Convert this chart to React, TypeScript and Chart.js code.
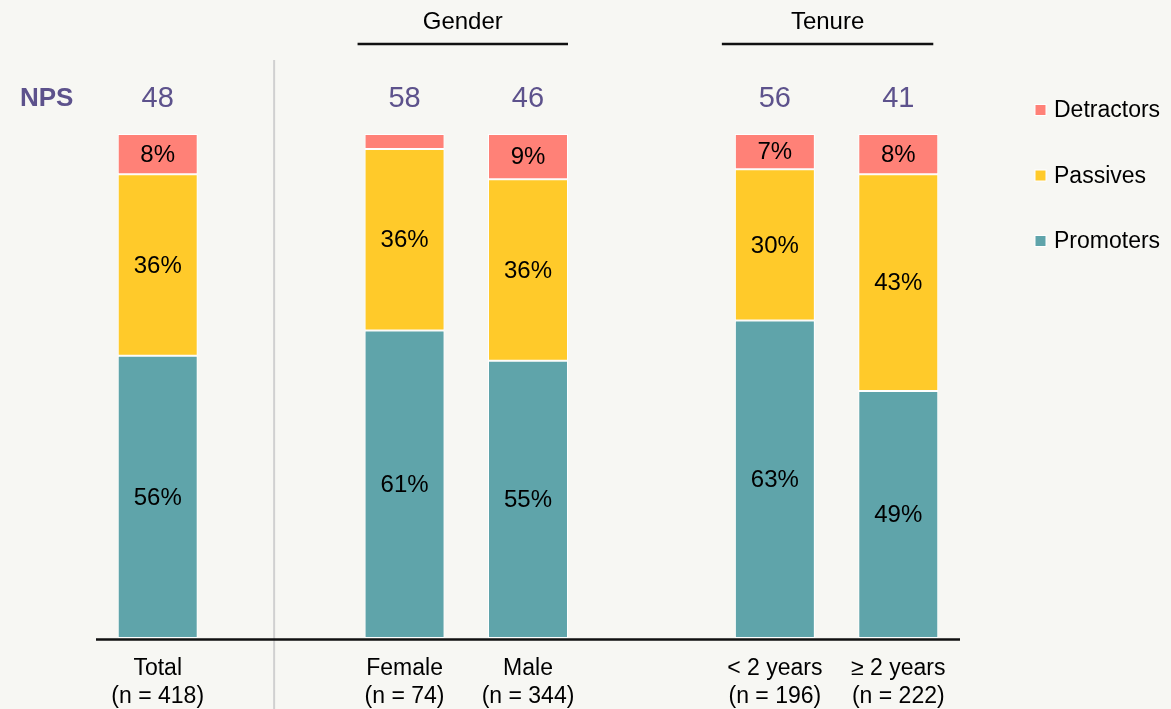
import React, { useEffect, useRef } from "react";
import { Chart, registerables } from "chart.js";

Chart.register(...registerables);

// ---- data ----
const categories: string[][] = [
  ["Total", "(n = 418)"],
  [""],
  ["Female", "(n = 74)"],
  ["Male", "(n = 344)"],
  [""],
  ["< 2 years", "(n = 196)"],
  ["≥ 2 years", "(n = 222)"],
];
const promoters = [56, null, 61, 55, null, 63, 49];
const passives = [36, null, 36, 36, null, 30, 43];
const detractors = [8, null, 3, 9, null, 7, 8];
const npsScores = [48, null, 58, 46, null, 56, 41];
const groupLabels = ["Gender", "Tenure"];
const groupStart = [2, 5];
const groupEnd = [3, 6];

const COLORS = {
  promoters: "#5fa4aa",
  passives: "#ffca2a",
  detractors: "#ff8177",
  nps: "#5d528c",
  bg: "#f7f7f3",
};
const FONT = "'Liberation Sans', Arial, sans-serif";

const decorPlugin = {
  id: "decor",
  afterDatasetsDraw(chart: any) {
    const { ctx, chartArea } = chart;
    const xs = chart.scales.x;
    ctx.save();

    // segment value labels
    ctx.font = `24px ${FONT}`;
    ctx.fillStyle = "#000";
    ctx.textAlign = "center";
    ctx.textBaseline = "middle";
    chart.data.datasets.forEach((ds: any, i: number) => {
      const meta = chart.getDatasetMeta(i);
      meta.data.forEach((bar: any, j: number) => {
        const v = ds.data[j];
        if (v == null || v < 5) return;
        const p = bar.getProps(["x", "y", "base"], true);
        ctx.fillText(`${v}%`, p.x, (p.y + p.base) / 2 + 1);
      });
    });

    // separator
    const sepX = xs.getPixelForValue(1) - 7;
    ctx.strokeStyle = "#d0d0d0";
    ctx.lineWidth = 2;
    ctx.beginPath();
    ctx.moveTo(sepX, 60);
    ctx.lineTo(sepX, chart.height);
    ctx.stroke();

    // baseline
    ctx.strokeStyle = "#111";
    ctx.lineWidth = 2.5;
    ctx.beginPath();
    ctx.moveTo(chartArea.left, chartArea.bottom + 1.5);
    ctx.lineTo(chartArea.right, chartArea.bottom + 1.5);
    ctx.stroke();

    // NPS row
    ctx.textBaseline = "alphabetic";
    ctx.fillStyle = COLORS.nps;
    ctx.textAlign = "left";
    ctx.font = `bold 26px ${FONT}`;
    ctx.fillText("NPS", 20, 106);
    ctx.textAlign = "center";
    ctx.font = `29px ${FONT}`;
    npsScores.forEach((v, j) => {
      if (v == null) return;
      ctx.fillText(String(v), xs.getPixelForValue(j), 107);
    });

    // group headers
    const offsets = [
      [-47, 40],
      [-53, 35],
    ];
    ctx.fillStyle = "#000";
    ctx.font = `24px ${FONT}`;
    groupLabels.forEach((lbl, g) => {
      const x0 = xs.getPixelForValue(groupStart[g]) + offsets[g][0];
      const x1 = xs.getPixelForValue(groupEnd[g]) + offsets[g][1];
      ctx.fillText(lbl, (x0 + x1) / 2, 29);
      ctx.strokeStyle = "#111";
      ctx.lineWidth = 2.5;
      ctx.beginPath();
      ctx.moveTo(x0, 44);
      ctx.lineTo(x1, 44);
      ctx.stroke();
    });

    // legend (reverse order)
    const items = chart.data.datasets.slice().reverse();
    ctx.textAlign = "left";
    ctx.textBaseline = "alphabetic";
    ctx.font = `23px ${FONT}`;
    items.forEach((ds: any, k: number) => {
      const cy = 110 + k * 65.5;
      ctx.fillStyle = ds.backgroundColor;
      ctx.fillRect(1035, cy - 5.5, 11, 11);
      ctx.strokeStyle = "#ffffff";
      ctx.lineWidth = 1;
      ctx.strokeRect(1035, cy - 5.5, 11, 11);
      ctx.fillStyle = "#000";
      ctx.fillText(ds.label, 1054, cy + 7);
    });

    ctx.restore();
  },
};

export default function App() {
  const ref = useRef<HTMLCanvasElement | null>(null);

  useEffect(() => {
    if (!ref.current) return;
    const chart = new Chart(ref.current, {
      type: "bar",
      data: {
        labels: categories,
        datasets: [
          {
            label: "Promoters",
            data: promoters,
            backgroundColor: COLORS.promoters,
            borderColor: "#ffffff",
            borderWidth: 1,
            borderSkipped: false,
          },
          {
            label: "Passives",
            data: passives,
            backgroundColor: COLORS.passives,
            borderColor: "#ffffff",
            borderWidth: 1,
            borderSkipped: false,
          },
          {
            label: "Detractors",
            data: detractors,
            backgroundColor: COLORS.detractors,
            borderColor: "#ffffff",
            borderWidth: 1,
            borderSkipped: false,
          },
        ] as any,
      },
      options: {
        animation: false,
        responsive: true,
        maintainAspectRatio: false,
        layout: { padding: { left: 96, right: 211, top: 134, bottom: 0 } },
        datasets: {
          bar: { categoryPercentage: 1, barPercentage: 0.648 },
        },
        plugins: {
          legend: { display: false },
          tooltip: { enabled: false },
        },
        scales: {
          x: {
            stacked: true,
            grid: { display: false, drawTicks: false },
            border: { display: false },
            ticks: {
              color: "#000",
              font: { family: FONT, size: 23, lineHeight: 1.2 },
              padding: 17,
              maxRotation: 0,
              autoSkip: false,
            },
            afterFit: (s: any) => {
              s.height = 71;
            },
          },
          y: {
            stacked: true,
            display: false,
            min: 0,
            max: 100,
          },
        },
      },
      plugins: [decorPlugin],
    });
    return () => chart.destroy();
  }, []);

  return (
    <div
      style={{
        position: "absolute",
        left: 0,
        top: 0,
        width: 1171,
        height: 709,
        background: COLORS.bg,
        overflow: "hidden",
      }}
    >
      <canvas ref={ref} />
    </div>
  );
}
